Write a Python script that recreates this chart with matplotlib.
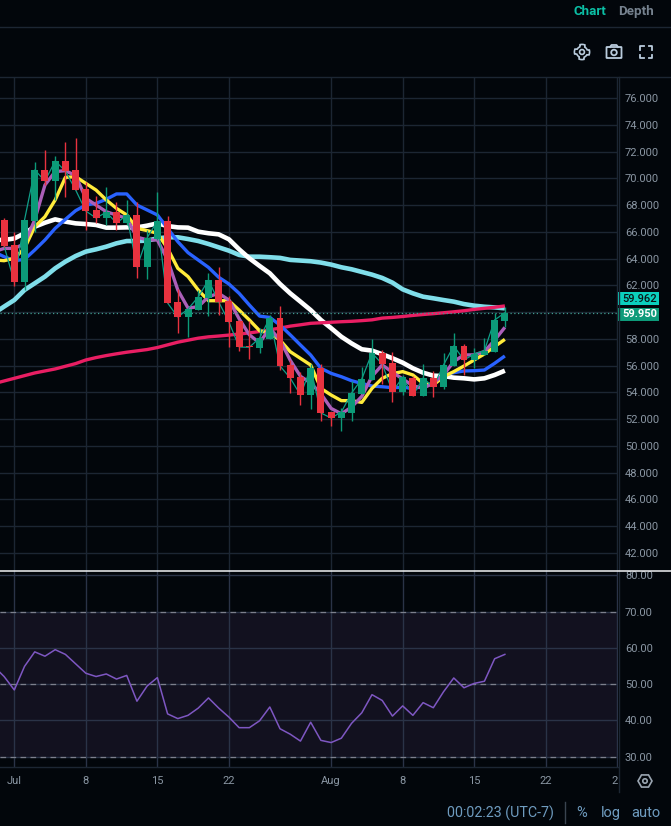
# Candlestick chart with moving averages and RSI pane

import numpy as np
import matplotlib
matplotlib.use('Agg')
import matplotlib.pyplot as plt
from matplotlib.patches import Circle, Rectangle, Polygon, FancyBboxPatch

plt.rcParams['font.family'] = ['Roboto', 'DejaVu Sans']

W, H = 671, 826

# day number counted from Jul 1
days = list(range(-1, 49))
opens = [66.88, 65.00, 62.25, 66.81, 70.62, 69.80, 71.29, 70.62, 69.20, 67.63, 67.03, 67.46, 66.66, 67.26, 63.37, 65.46, 66.81,
         60.76, 59.63, 60.16, 61.05, 62.40, 60.83, 59.33, 57.47, 57.32, 57.99, 59.56, 56.04, 55.15, 53.80, 55.82, 52.53, 52.08,
         52.46, 53.88, 54.92, 56.94, 56.17, 54.05, 55.07, 53.75, 55.07, 54.40, 55.97, 57.47, 56.42, 56.79, 57.04, 59.36]
highs = [67.00, 66.00, 66.90, 71.19, 72.11, 71.67, 72.71, 73.01, 69.75, 68.68, 69.35, 68.23, 68.38, 68.23, 66.13, 68.97, 67.18,
         61.73, 60.23, 61.65, 62.92, 63.37, 61.20, 59.40, 59.33, 58.81, 59.78, 60.45, 56.42, 55.52, 56.12, 56.12, 52.53, 52.83,
         54.85, 55.90, 57.99, 57.17, 57.02, 55.30, 55.20, 56.10, 55.60, 56.92, 58.44, 57.62, 57.32, 58.06, 59.93, 60.40]
lows = [64.90, 61.95, 61.65, 66.01, 69.50, 68.38, 68.63, 69.13, 66.13, 66.63, 66.51, 66.13, 66.48, 62.55, 62.47, 65.39, 60.68,
        58.41, 58.14, 60.16, 59.71, 59.78, 57.39, 57.09, 56.49, 56.94, 57.99, 55.67, 53.95, 53.05, 52.76, 51.86, 51.49, 51.11,
        51.86, 53.88, 54.92, 54.62, 53.31, 53.80, 53.75, 53.75, 53.65, 54.25, 55.97, 55.30, 55.82, 56.79, 57.04, 58.91]
closes = [64.94, 62.25, 66.88, 70.62, 69.80, 71.29, 70.54, 69.13, 67.55, 67.03, 67.46, 66.66, 67.23, 63.37, 65.56, 66.81, 60.68,
          59.63, 60.23, 61.13, 62.40, 60.76, 59.26, 57.39, 57.37, 58.06, 59.56, 55.97, 55.07, 53.80, 55.82, 52.46, 52.08, 52.53,
          53.95, 55.00, 56.94, 56.12, 54.05, 55.12, 53.75, 55.07, 54.40, 56.05, 57.47, 56.42, 56.87, 57.12, 59.41, 59.95]

# moving averages, one value per day, starting one day before the first candle
line_days = list(range(-2, 49))
purple = [64.50, 64.76, 64.76, 65.10, 66.90, 69.50, 70.50, 70.57, 70.20, 68.50, 68.00, 67.50, 67.25, 67.00, 65.60, 65.40, 65.39,
          63.90, 61.65, 60.30, 60.40, 61.15, 61.40, 60.90, 59.50, 58.30, 57.70, 58.80, 57.90, 56.40, 55.20, 54.70, 53.90, 52.80,
          52.40, 52.90, 53.70, 55.20, 56.05, 55.50, 55.00, 54.50, 54.30, 54.70, 55.30, 56.30, 56.80, 56.80, 57.05, 57.90, 58.86]
yellow = [63.90, 63.84, 64.02, 64.76, 66.38, 67.13, 68.38, 70.07, 70.12, 69.62, 69.12, 68.38, 67.75, 67.26, 66.26, 66.09, 65.89,
          64.76, 63.27, 62.65, 61.65, 60.85, 60.85, 60.85, 60.15, 59.41, 58.61, 58.41, 57.91, 57.04, 56.54, 56.04, 54.30, 53.80,
          53.38, 53.38, 53.25, 54.30, 55.05, 55.40, 55.55, 55.30, 54.67, 54.55, 55.17, 55.55, 55.97, 56.42, 56.87, 57.42, 57.96]
blue = [64.50, 64.14, 63.84, 63.94, 64.64, 65.39, 66.26, 66.93, 67.58, 68.00, 68.13, 68.43, 68.83, 68.83, 68.00, 67.63, 67.26,
        66.26, 65.26, 64.44, 63.89, 63.34, 62.60, 62.10, 61.40, 60.53, 59.70, 59.60, 59.03, 58.30, 57.54, 56.79, 55.80, 55.42,
        55.17, 54.87, 54.67, 54.47, 54.42, 54.35, 54.38, 54.30, 54.43, 54.67, 55.30, 55.47, 55.60, 55.62, 55.67, 56.17, 56.72]
white = [65.40, 65.39, 65.50, 65.89, 66.38, 66.68, 66.93, 66.76, 66.63, 66.58, 66.51, 66.31, 66.31, 66.33, 66.33, 66.46, 66.63,
         66.43, 66.33, 66.31, 66.01, 65.89, 65.81, 65.44, 64.69, 64.02, 63.45, 62.90, 62.10, 61.40, 60.78, 60.15, 59.41, 58.80,
         58.16, 57.66, 57.22, 57.12, 56.85, 56.55, 56.22, 55.80, 55.47, 55.25, 55.22, 55.10, 55.05, 54.97, 55.05, 55.30, 55.62]
cyan = [59.90, 60.41, 60.90, 61.65, 62.15, 62.65, 63.27, 63.77, 64.19, 64.52, 64.69, 64.89, 65.14, 65.31, 65.31, 65.34, 65.51,
        65.59, 65.59, 65.46, 65.31, 65.09, 64.84, 64.59, 64.27, 64.14, 64.14, 64.10, 64.05, 63.90, 63.85, 63.80, 63.70, 63.55,
        63.35, 63.20, 63.00, 62.80, 62.55, 62.20, 61.70, 61.40, 61.15, 61.03, 60.90, 60.78, 60.60, 60.48, 60.40, 60.35, 60.28]
pink = [54.65, 54.85, 55.05, 55.25, 55.45, 55.60, 55.75, 55.95, 56.15, 56.42, 56.60, 56.75, 56.88, 57.00, 57.10, 57.20, 57.35,
        57.55, 57.75, 57.90, 58.05, 58.15, 58.21, 58.28, 58.36, 58.44, 58.55, 58.68, 58.80, 58.95, 59.05, 59.16, 59.20, 59.24,
        59.28, 59.31, 59.36, 59.42, 59.55, 59.60, 59.67, 59.75, 59.82, 59.88, 59.95, 60.02, 60.10, 60.20, 60.28, 60.36, 60.46]

rsi = [54.9, 52.1, 48.4, 54.9, 58.9, 57.7, 59.5, 58.2, 55.6, 53.0, 52.1, 52.8, 51.4, 52.4, 45.3, 49.5, 51.8,
       41.8, 40.5, 41.4, 43.4, 46.2, 43.4, 40.9, 38.0, 38.0, 39.9, 43.7, 37.7, 36.2, 34.3, 39.5, 34.5, 33.9,
       35.1, 39.2, 42.1, 47.1, 45.5, 41.2, 44.0, 41.4, 44.9, 43.5, 47.9, 51.7, 49.0, 50.2, 50.8, 57.0, 58.2]

price_ticks = list(range(42, 78, 2))
rsi_ticks = [30, 40, 50, 60, 70, 80]
rsi_dashed = [30, 50, 70]
tick_days = [0, 7, 14, 21, 31, 38, 45, 52, 59]
tick_labels = ['Jul', '8', '15', '22', 'Aug', '8', '15', '22', '29']
last_price = 59.95
tag_top = '59.962'
tag_bottom = '59.950'

BG = '#02060b'
GRID = '#1c2633'
GRID_BAND = '#2a3347'
TEXT = '#8a96a3'
UP = '#0c9a78'
DOWN = '#e8323f'
BAND = '#12111f'

fig = plt.figure(figsize=(W / 100, H / 100), dpi=100, facecolor=BG)


def pane(left, top, right, bottom):
    return fig.add_axes([left / W, 1 - bottom / H, (right - left) / W, (bottom - top) / H], facecolor=BG)


# x scale: Jul 1 sits at 14.3 px, one day is 10.22 px
xlim = ((0 - 14.3) / 10.22, (618 - 14.3) / 10.22)

# Price pane
ax = pane(0, 77, 618, 570.5)
ax.set_xlim(*xlim)
ax.set_ylim(76 - (570.5 - 98) / 13.38, 76 + (98 - 77) / 13.38)
ax.set_xticks(tick_days)
ax.set_yticks(price_ticks)
# the 60 label is covered by the price tags
ax.set_yticklabels(['' if t == 60 else '%.3f' % t for t in price_ticks])
ax.yaxis.tick_right()
ax.tick_params(axis='y', length=0, pad=5, labelsize=8, labelcolor=TEXT)
ax.tick_params(axis='x', length=0, labelbottom=False)
ax.grid(True, color=GRID, lw=1.0)
ax.set_axisbelow(True)

ax.plot(line_days, cyan, color='#80deea', lw=3.3, zorder=2, solid_capstyle='butt')
ax.plot(line_days, white, color='#ffffff', lw=3.3, zorder=2.1, solid_capstyle='butt')
ax.plot(line_days, pink, color='#e91e63', lw=2.4, zorder=2.2, solid_capstyle='butt')
ax.plot(line_days, blue, color='#2962ff', lw=2.4, zorder=2.3, solid_capstyle='butt')
ax.plot(line_days, yellow, color='#ffeb3b', lw=2.4, zorder=2.4, solid_capstyle='butt')
ax.plot(line_days, purple, color='#ab5fb8', lw=2.4, zorder=2.5, solid_capstyle='butt')

ax.axhline(last_price, color='#3f9c90', lw=0.9, ls=(0, (1, 2)), zorder=2.6)
ax.plot(days, closes, color='#0fa08a', lw=0.9, zorder=2.7)

colors = [UP if c >= o else DOWN for o, c in zip(opens, closes)]
ax.vlines(days, lows, highs, colors=colors, lw=1.0, zorder=3)
bottoms = np.minimum(opens, closes)
heights = np.abs(np.array(closes) - np.array(opens))
ax.bar(days, heights, bottom=bottoms, width=0.68, color=colors, lw=0, zorder=3.1)

for s in ax.spines.values():
    s.set_visible(False)

# RSI pane
ax2 = pane(0, 571, 618, 767)
ax2.set_xlim(*xlim)
ax2.set_ylim(30 - (767 - 756.7) / 3.627, 80 + (575.3 - 571) / 3.627)
ax2.axhspan(30, 70, color=BAND, lw=0, zorder=0)
ax2.set_xticks(tick_days)
ax2.set_yticks(rsi_ticks)
ax2.set_yticklabels(['%.2f' % t for t in rsi_ticks])
ax2.yaxis.tick_right()
ax2.tick_params(axis='y', length=0, pad=5, labelsize=8, labelcolor=TEXT)
ax2.tick_params(axis='x', length=0, labelbottom=False)
ax2.grid(True, color=GRID_BAND, lw=1.0, zorder=0.5)
ax2.set_axisbelow(True)
for level in rsi_dashed:
    ax2.axhline(level, color='#7d808c', lw=0.9, ls=(0, (4.5, 3.5)), zorder=1)
ax2.plot(line_days, rsi, color='#7e57c2', lw=1.1, zorder=2)
for s in ax2.spines.values():
    s.set_visible(False)

# Time axis, the last label is cut by the price scale
ax3 = pane(0, 767, 618, 792)
ax3.set_xlim(*xlim)
ax3.set_ylim(0, 1)
ax3.axis('off')
for d, label in zip(tick_days, tick_labels):
    ax3.text(d, 0.45, label, color=TEXT, fontsize=8, ha='center', va='center', clip_on=True)

# Frame lines, buttons and status bar in pixel coordinates
top = fig.add_axes([0, 0, 1, 1], facecolor='none')
top.set_xlim(0, W)
top.set_ylim(H, 0)
top.axis('off')

line = '#1c2633'
top.plot([0, W], [27, 27], color=line, lw=1)
top.plot([0, W], [76.5, 76.5], color=line, lw=1)
top.plot([0, 618], [767, 767], color=line, lw=1)
top.plot([618.5, 618.5], [76.5, 792], color=line, lw=1)
top.plot([0, W], [570.5, 570.5], color='#f2f3f5', lw=1.1)

top.text(590, 11.5, 'Chart', color='#0bbfa5', fontsize=9.6, fontweight='bold', ha='center', va='center')
top.text(636, 11.5, 'Depth', color='#76828f', fontsize=9.6, fontweight='bold', ha='center', va='center')

# price tags
top.add_patch(Rectangle((618, 292), 41, 12.7, color='#0bcfbd', lw=0))
top.add_patch(Rectangle((618, 307.5), 41, 13.2, color='#0d9b7a', lw=0))
top.text(640, 298.6, tag_top, color='#0a1416', fontsize=8, fontweight='medium', ha='center', va='center')
top.text(640, 314.2, tag_bottom, color='#ffffff', fontsize=8, fontweight='bold', ha='center', va='center')

# gear icon
icon = '#b9cbdc'
t = np.linspace(0, 2 * np.pi, 49)
r = 6.6 + 1.0 * np.sign(np.cos(4 * t))
top.add_patch(Polygon(np.c_[582 + r * np.cos(t), 52 + r * np.sin(t)], fill=False, ec=icon, lw=1.2))
top.add_patch(Circle((582, 52), 2.4, fill=False, ec=icon, lw=1.2))

# camera icon
top.add_patch(FancyBboxPatch((607, 47.5), 14, 10, boxstyle='round,pad=0.5', fill=False, ec=icon, lw=1.3))
top.plot([610, 611.5, 616.5, 618], [47, 45, 45, 47], color=icon, lw=1.3)
top.add_patch(Circle((614, 52.5), 2.8, fill=False, ec=icon, lw=1.3))

# fullscreen icon
for cx, cy, sx, sy in [(640, 46, 1, 1), (652, 46, -1, 1), (640, 58, 1, -1), (652, 58, -1, -1)]:
    top.plot([cx, cx, cx + 3.5 * sx], [cy + 3.5 * sy, cy, cy], color=icon, lw=1.3)

# pane settings icon
t = np.linspace(0, 2 * np.pi, 7) + np.pi / 3
top.add_patch(Polygon(np.c_[645 + 7 * np.cos(t), 781 + 7 * np.sin(t)], fill=False, ec='#9aa5b1', lw=1.2))
top.add_patch(Circle((645, 781), 2.2, fill=False, ec='#9aa5b1', lw=1.2))

# status bar
status = '#6f9cc0'
top.text(500.5, 813, '00:02:23 (UTC-7)', color=status, fontsize=10.3, ha='center', va='center')
top.plot([564.5, 564.5], [802, 823], color='#3a4450', lw=1)
top.text(582, 813, '%', color=status, fontsize=10.5, ha='center', va='center')
top.text(610.5, 813, 'log', color=status, fontsize=10.5, ha='center', va='center')
top.text(646, 813, 'auto', color=status, fontsize=10.5, ha='center', va='center')

fig.savefig('out.png', dpi=100, facecolor=BG)
